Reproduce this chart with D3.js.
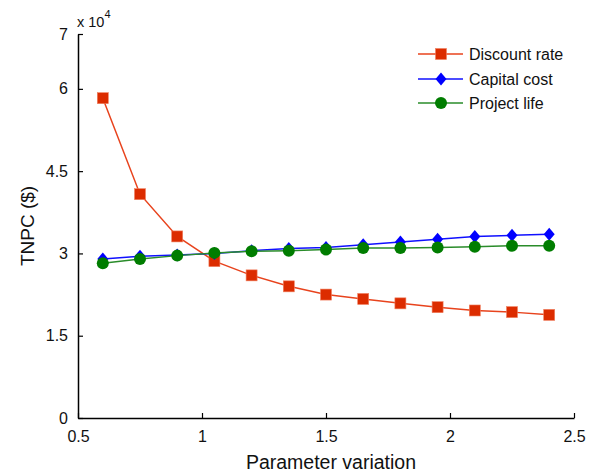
<!DOCTYPE html>
<html>
<head>
<meta charset="utf-8">
<script src="https://cdn.jsdelivr.net/npm/d3@7"></script>
<style>
  html, body { margin: 0; padding: 0; background: #fff; }
  svg { display: block; font-family: "Liberation Sans", Arial, sans-serif; }
</style>
</head>
<body>
<svg id="chart" width="595" height="476"></svg>
<script>
// Parameter variation factors (x axis)
const variation = [0.6, 0.75, 0.9, 1.05, 1.2, 1.35, 1.5, 1.65, 1.8, 1.95, 2.1, 2.25, 2.4];

// Total net present cost ($) for each sensitivity case
const discountRate = [58300, 40800, 33100, 28600, 26000, 24000, 22500, 21700, 20900, 20200, 19600, 19300, 18800];
const capitalCost  = [29000, 29500, 29700, 30000, 30500, 30900, 31100, 31600, 32100, 32600, 33100, 33300, 33500];
const projectLife  = [28200, 29000, 29600, 30100, 30400, 30500, 30700, 31000, 31000, 31100, 31200, 31400, 31400];

const xTicks = [0.5, 1, 1.5, 2, 2.5];
const yTicks = [0, 15000, 30000, 45000, 60000, 70000];

const seriesNames = ["Discount rate", "Capital cost", "Project life"];

const series = [
  { name: seriesNames[0], values: discountRate, line: "#e8431d", fill: "#dc2c00", marker: "square" },
  { name: seriesNames[1], values: capitalCost,  line: "#1010ff", fill: "#0000ff", marker: "diamond" },
  { name: seriesNames[2], values: projectLife,  line: "#2a8c2a", fill: "#007d00", marker: "circle" }
];

const svg = d3.select("#chart");
const margin = { left: 78, right: 21, top: 34, bottom: 58 };
const W = 595, H = 476;

const x = d3.scaleLinear().domain([0.5, 2.5]).range([margin.left, W - margin.right]);
const y = d3.scaleLinear().domain([0, 70000]).range([H - margin.bottom, margin.top]);

// Axes: ticks point inward, labels outside
const xAxis = d3.axisBottom(x).tickValues(xTicks).tickSizeInner(-5).tickSizeOuter(0)
  .tickPadding(10).tickFormat(d3.format("~g"));
const yAxis = d3.axisLeft(y).tickValues(yTicks).tickSizeInner(-5).tickSizeOuter(0)
  .tickPadding(10).tickFormat(d => d3.format("~g")(d / 10000));

const gx = svg.append("g").attr("transform", `translate(0,${y(0)})`).call(xAxis);
const gy = svg.append("g").attr("transform", `translate(${x(0.5)},0)`).call(yAxis);

[gx, gy].forEach(g => {
  g.select(".domain").attr("stroke", "#000").attr("stroke-width", 1.5);
  g.selectAll(".tick line").attr("stroke", "#000").attr("stroke-width", 1.2);
  g.selectAll(".tick text").attr("fill", "#111").attr("font-size", 16)
    .attr("font-family", "Liberation Sans, Arial, sans-serif");
});
gx.selectAll(".tick text").attr("dy", "0.85em");

// Exponent note above the y axis
const expo = svg.append("text").attr("x", 77).attr("y", 27)
  .attr("font-size", 14.5).attr("fill", "#111");
expo.append("tspan").text("x 10");
expo.append("tspan").attr("dy", -9).attr("font-size", 11).text("4");

// Axis titles
svg.append("text")
  .attr("transform", `translate(34,${(y(0) + y(70000)) / 2}) rotate(-90)`)
  .attr("text-anchor", "middle").attr("font-size", 19).attr("fill", "#111")
  .text("TNPC ($)");
svg.append("text")
  .attr("x", (x(0.5) + x(2.5)) / 2 + 5).attr("y", 469)
  .attr("text-anchor", "middle").attr("font-size", 19.5).attr("fill", "#111")
  .text("Parameter variation");

function drawMarker(g, type, cx, cy, fill) {
  if (type === "square") {
    g.append("rect").attr("x", cx - 5.5).attr("y", cy - 5.5).attr("width", 11).attr("height", 11)
      .attr("fill", fill).attr("stroke", "#f08060").attr("stroke-width", 0.6);
  } else if (type === "diamond") {
    g.append("path").attr("d", `M${cx},${cy - 6.5}L${cx + 5.5},${cy}L${cx},${cy + 6.5}L${cx - 5.5},${cy}Z`)
      .attr("fill", fill);
  } else {
    g.append("circle").attr("cx", cx).attr("cy", cy).attr("r", 6).attr("fill", fill);
  }
}

const line = d3.line().x((d, i) => x(variation[i])).y(d => y(d));

series.forEach(s => {
  const g = svg.append("g");
  g.append("path").datum(s.values).attr("d", line)
    .attr("fill", "none").attr("stroke", s.line).attr("stroke-width", 1.5);
  s.values.forEach((v, i) => drawMarker(g, s.marker, x(variation[i]), y(v), s.fill));
});

// Legend
const legendRows = [54, 79, 103];
series.forEach((s, i) => {
  const g = svg.append("g");
  const ly = legendRows[i];
  g.append("line").attr("x1", 418).attr("x2", 463).attr("y1", ly).attr("y2", ly)
    .attr("stroke", s.line).attr("stroke-width", 1.5);
  drawMarker(g, s.marker, 441, ly, s.fill);
  g.append("text").attr("x", 469).attr("y", ly).attr("dy", "0.35em")
    .attr("font-size", 16).attr("fill", "#111").text(s.name);
});
</script>
</body>
</html>
